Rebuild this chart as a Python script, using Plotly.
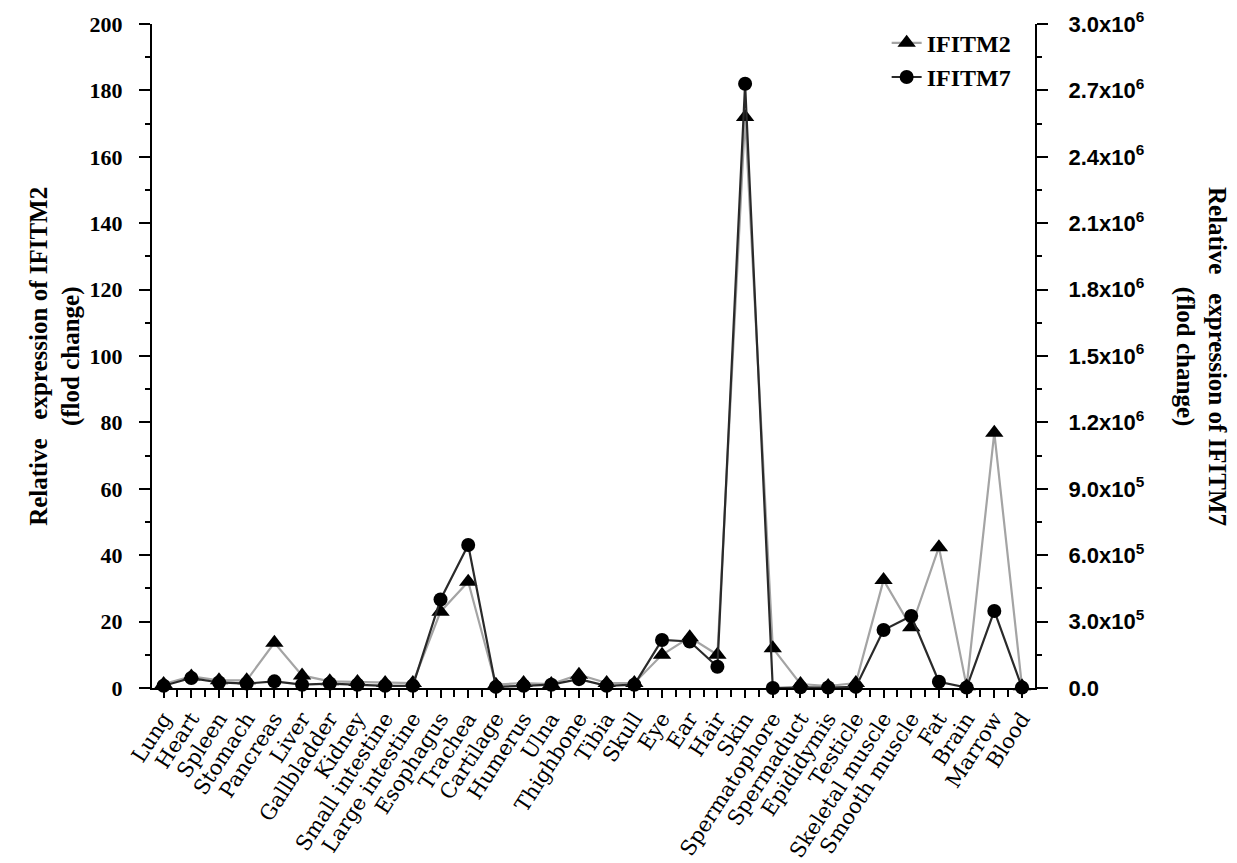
import plotly.graph_objects as go

tissues = ["Lung", "Heart", "Spleen", "Stomach", "Pancreas", "Liver", "Gallbladder", "Kidney",
           "Small intestine", "Large intestine", "Esophagus", "Trachea", "Cartilage", "Humerus",
           "Ulna", "Thighbone", "Tibia", "Skull", "Eye", "Ear", "Hair", "Skin", "Spermatophore",
           "Spermaduct", "Epididymis", "Testicle", "Skeletal muscle", "Smooth muscle", "Fat",
           "Brain", "Marrow", "Blood"]

ifitm2 = [1.2, 3.5, 2.3, 2.3, 13.6, 3.8, 2.0, 1.8, 1.5, 1.5, 23.0, 32.0, 1.0, 1.5,
          1.2, 4.0, 1.5, 1.5, 10.0, 15.3, 10.0, 172.0, 12.0, 1.2, 0.6, 1.5, 32.5, 18.3,
          42.4, 0.5, 76.9, 0.5]

ifitm7 = [10000, 45000, 25000, 20000, 30000, 15000, 20000, 15000, 10000, 10000, 400000, 646000,
          5000, 10000, 15000, 40000, 10000, 15000, 217000, 210000, 96000, 2730000, 0, 3000,
          2000, 5000, 262000, 325000, 28000, 2000, 348000, 2000]

left_ticks = [0, 20, 40, 60, 80, 100, 120, 140, 160, 180, 200]
right_ticks = [0, 3e5, 6e5, 9e5, 1.2e6, 1.5e6, 1.8e6, 2.1e6, 2.4e6, 2.7e6, 3.0e6]
right_labels = ["0.0", "3.0x10<sup>5</sup>", "6.0x10<sup>5</sup>", "9.0x10<sup>5</sup>",
                "1.2x10<sup>6</sup>", "1.5x10<sup>6</sup>", "1.8x10<sup>6</sup>", "2.1x10<sup>6</sup>",
                "2.4x10<sup>6</sup>", "2.7x10<sup>6</sup>", "3.0x10<sup>6</sup>"]

xs = list(range(len(tissues)))

fig = go.Figure()
fig.add_trace(go.Scatter(
    x=xs, y=ifitm2, name="IFITM2", mode="lines+markers", yaxis="y",
    line=dict(color="#a4a4a4", width=2.2),
    marker=dict(symbol="triangle-up", size=16, color="black"),
    cliponaxis=False))
fig.add_trace(go.Scatter(
    x=xs, y=ifitm7, name="IFITM7", mode="lines+markers", yaxis="y2",
    line=dict(color="#2a2a2a", width=2.2),
    marker=dict(symbol="circle", size=14, color="black"),
    cliponaxis=False))

serif_bold = dict(family="Liberation Serif", size=22, color="black", weight="bold")
sans_bold = dict(family="Liberation Sans", size=22, color="black", weight="bold")

fig.update_layout(
    width=1237, height=863,
    margin=dict(l=152, r=202, t=24, b=175),
    paper_bgcolor="white", plot_bgcolor="white",
    showlegend=True,
    legend=dict(x=0.832, y=1.005, xanchor="left", yanchor="top",
                bgcolor="rgba(0,0,0,0)", tracegroupgap=0,
                font=dict(family="Liberation Serif", size=24, color="black", weight="bold")),
    xaxis=dict(
        range=[-0.42, 31.47], tickmode="array", tickvals=xs, ticktext=tissues,
        tickangle=-57, ticks="outside", ticklen=8, tickwidth=2, tickcolor="black",
        showline=True, linecolor="black", linewidth=2, showgrid=False, zeroline=False,
        automargin=False,
        tickfont=dict(family="DejaVu Serif", size=21, color="black"),
        minor=dict(ticks="outside", ticklen=7, tickwidth=2, tickcolor="black",
                   dtick=0.5, tick0=-0.5, showgrid=False)),
    yaxis=dict(
        range=[0, 200], tickmode="array", tickvals=left_ticks,
        ticks="outside", ticklen=11, tickwidth=2, tickcolor="black",
        showline=True, linecolor="black", linewidth=2, showgrid=False, zeroline=False,
        automargin=False, tickfont=serif_bold, ticklabelstandoff=12,
        minor=dict(ticks="outside", ticklen=5, tickwidth=2, tickcolor="black",
                   dtick=10, tick0=0, showgrid=False)),
    yaxis2=dict(
        range=[0, 3.0e6], overlaying="y", side="right", anchor="x",
        tickmode="array", tickvals=right_ticks, ticktext=right_labels,
        ticks="outside", ticklen=11, tickwidth=2, tickcolor="black",
        showline=True, linecolor="black", linewidth=2, showgrid=False, zeroline=False,
        automargin=False, tickfont=sans_bold, ticklabelstandoff=16,
        minor=dict(ticks="outside", ticklen=5, tickwidth=2, tickcolor="black",
                   dtick=1.5e5, tick0=0, showgrid=False)),
    annotations=[
        dict(text="Relative   expression of IFITM2<br>(flod change)", xref="paper", yref="paper",
             x=-0.11, y=0.5, xanchor="center", yanchor="middle", showarrow=False,
             textangle=-90, font=dict(family="Liberation Serif", size=25, color="black", weight="bold")),
        dict(text="Relative   expression of IFITM7<br>(flod change)", xref="paper", yref="paper",
             x=1.188, y=0.5, xanchor="center", yanchor="middle", showarrow=False,
             textangle=90, font=dict(family="Liberation Serif", size=25, color="black", weight="bold")),
    ],
)

fig.write_html("out.html")
